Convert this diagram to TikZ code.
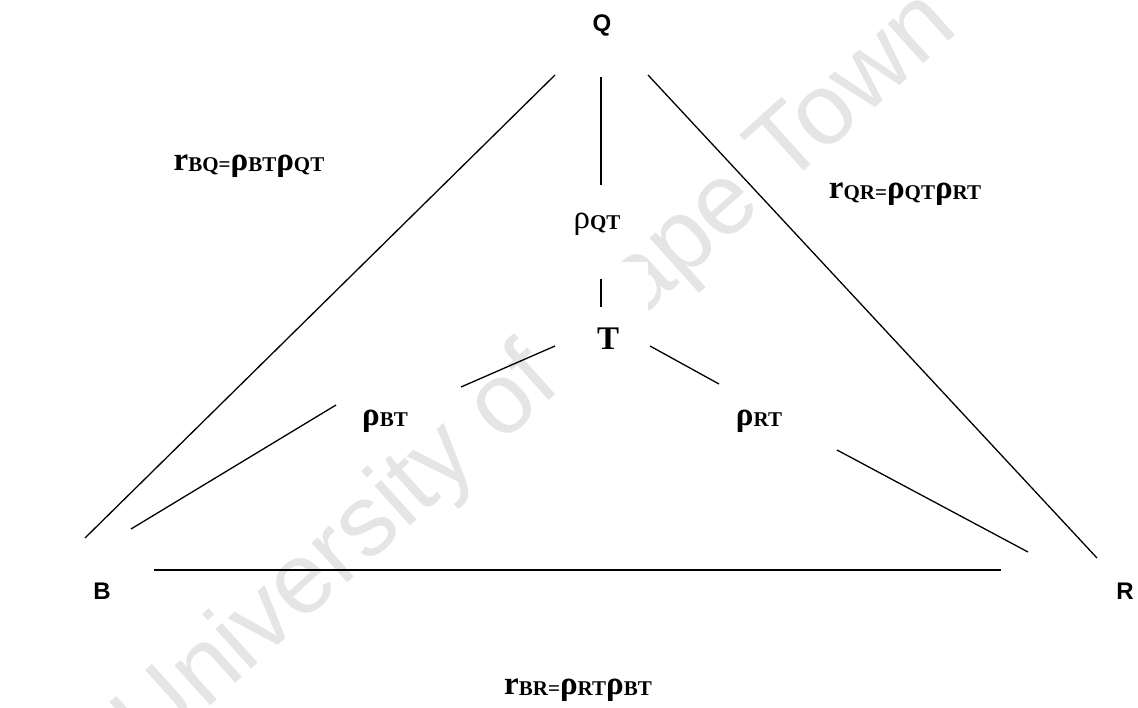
\documentclass[tikz,border=0pt]{standalone}
\usepackage{fontspec}
\setmainfont{Liberation Serif}
\newfontfamily\arialfont{Liberation Sans}
\newcommand\lsub[1]{\raisebox{-1.5pt}{\fontsize{21}{21}\selectfont\bfseries #1}}
\newcommand\eqbigfont{\fontsize{33}{34}\selectfont\bfseries}
\begin{document}
\begin{tikzpicture}[x=1pt,y=-1pt,
  conn/.style={line width=1.3pt, black},
  vlabel/.style={font=\arialfont\bfseries\fontsize{24}{26}\selectfont, inner sep=0pt},
  eqlabel/.style={font=\eqbigfont, inner sep=0pt, anchor=center},
  mask/.style={fill=white, draw=none},
  wmark/.style={font=\arialfont\fontsize{101}{101}\selectfont, text=black!10, rotate=42, inner sep=0pt}]
\useasboundingbox (0,0) rectangle (1138,707);
% watermark
\node[wmark] (wm) at (538,376) {University of Cape Town};
% white text box round T covering the watermark
\fill[mask] (548,262) rectangle (648,368);
% vertices
\node[vlabel] (Q) at (602,25) {Q};
\node[vlabel] (B) at (102,591) {B};
\node[vlabel] (R) at (1125,591) {R};
\node[font=\fontsize{33}{34}\selectfont\bfseries, inner sep=0pt] (T) at (608,339) {T};
% labels
\node[inner sep=0pt] (pQT) at (597,224) {{\fontsize{33}{34}\selectfont ρ}\lsub{QT}};
\node[eqlabel] (pBT) at (385,421) {ρ\lsub{BT}};
\node[eqlabel] (pRT) at (759,421) {ρ\lsub{RT}};
\node[eqlabel] (rBQ) at (249,166) {r\lsub{BQ=}ρ\lsub{BT}ρ\lsub{QT}};
\node[eqlabel] (rQR) at (905,194) {r\lsub{QR=}ρ\lsub{QT}ρ\lsub{RT}};
\node[eqlabel] (rBR) at (578,690) {r\lsub{BR=}ρ\lsub{RT}ρ\lsub{BT}};
% connector end points
\coordinate (qa) at (555,75);  \coordinate (ba) at (85,538);
\coordinate (qb) at (648,75);  \coordinate (rb) at (1097,558);
\coordinate (qc) at (601,77);  \coordinate (qcE) at (601,185);
\coordinate (tc) at (601,279); \coordinate (tcE) at (601,307);
\coordinate (tl) at (555,346); \coordinate (tlE) at (461,387);
\coordinate (bl) at (336,405); \coordinate (blE) at (131,529);
\coordinate (tr) at (650,346); \coordinate (trE) at (719,384);
\coordinate (rr) at (837,450); \coordinate (rrE) at (1028,552);
\coordinate (bb) at (154,570); \coordinate (bbE) at (1001,570);
% connectors
\draw[conn] (qa) -- (ba);
\draw[conn] (qb) -- (rb);
\draw[conn] (qc) -- (qcE);
\draw[conn] (tc) -- (tcE);
\draw[conn] (tl) -- (tlE);
\draw[conn] (bl) -- (blE);
\draw[conn] (tr) -- (trE);
\draw[conn] (rr) -- (rrE);
\draw[conn] (bb) -- (bbE);
\end{tikzpicture}
\end{document}
